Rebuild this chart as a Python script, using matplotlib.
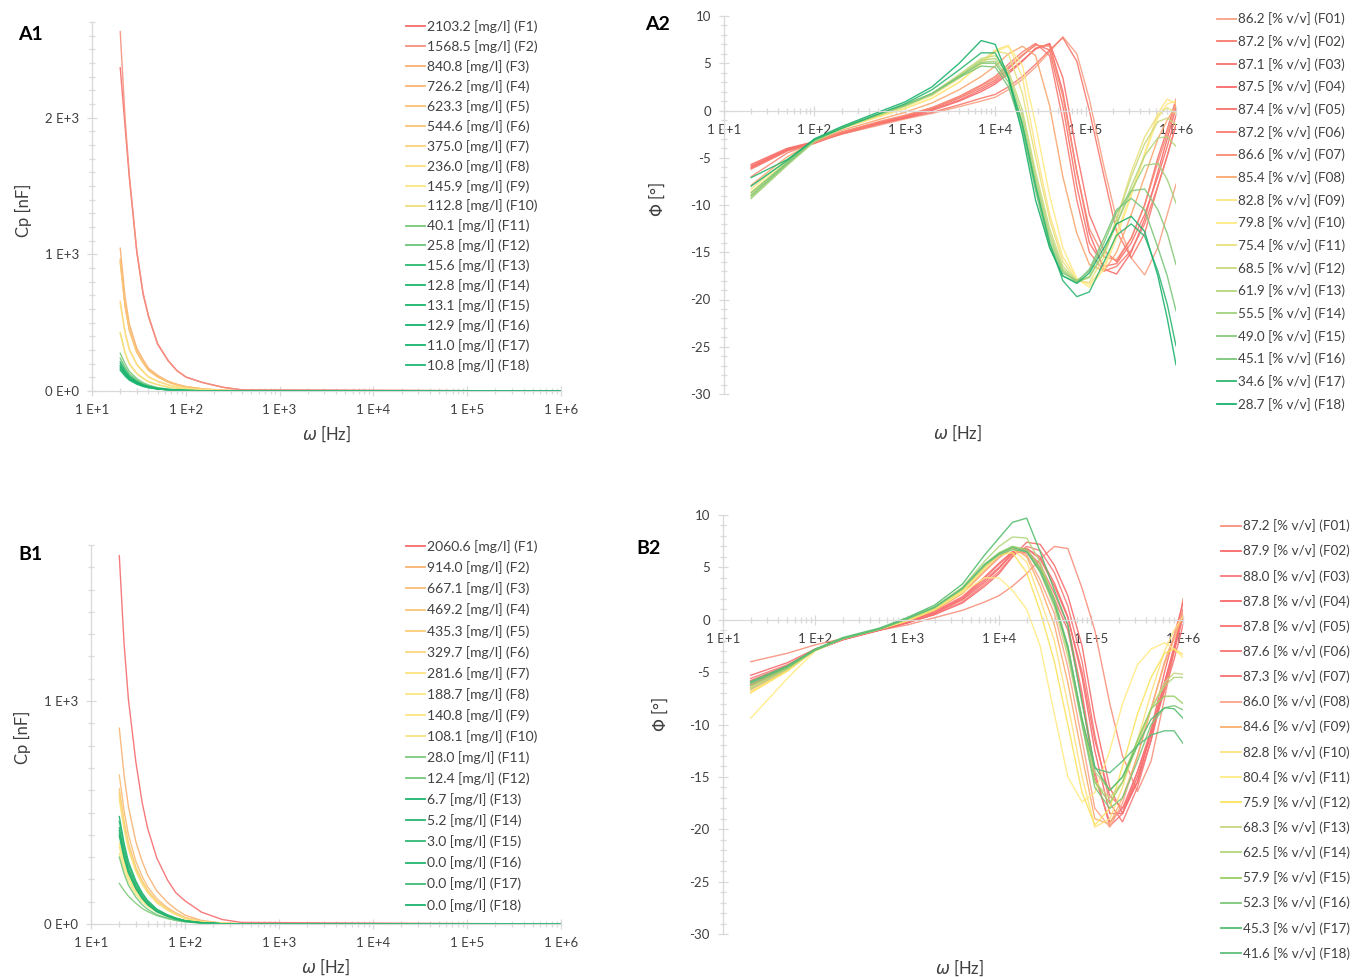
import numpy as np
import matplotlib
matplotlib.use("Agg")
import matplotlib.pyplot as plt
from matplotlib.lines import Line2D
from matplotlib.ticker import FuncFormatter, LogLocator, MultipleLocator, NullFormatter

plt.rcParams["font.family"] = ["Lato", "DejaVu Sans"]
plt.rcParams["mathtext.fontset"] = "dejavusans"

# ---------------- data ----------------
CP_FREQ = [20, 22.5, 25, 30, 35, 40, 50, 65, 80, 100, 150, 250, 400, 1e6]
PH_FREQ = [20, 50, 100, 200, 500, 1e3, 2e3, 4e3, 7e3, 1e4, 1.4e4, 2e4, 2.8e4, 4e4,
           5.6e4, 8e4, 1.1e5, 1.6e5, 2.2e5, 3.2e5, 4.5e5, 6.3e5, 8e5, 1e6]

A1_LABELS = ["2103.2 [mg/l] (F1)", "1568.5 [mg/l] (F2)", "840.8 [mg/l] (F3)", "726.2 [mg/l] (F4)",
             "623.3 [mg/l] (F5)", "544.6 [mg/l] (F6)", "375.0 [mg/l] (F7)", "236.0 [mg/l] (F8)",
             "145.9 [mg/l] (F9)", "112.8 [mg/l] (F10)", "40.1 [mg/l] (F11)", "25.8 [mg/l] (F12)",
             "15.6 [mg/l] (F13)", "12.8 [mg/l] (F14)", "13.1 [mg/l] (F15)", "12.9 [mg/l] (F16)",
             "11.0 [mg/l] (F17)", "10.8 [mg/l] (F18)"]
A1_CP = [
    [2365, 1940, 1560, 1017, 710, 544, 343, 220, 150, 102, 62, 27, 8, 0],
    [2630, 2000, 1580, 1030, 720, 552, 348, 223, 152, 103, 63, 27, 8, 0],
    [1045, 690, 491, 314, 230, 167, 115, 71, 50, 33, 16, 5, 1, 0],
    [965, 637, 454, 290, 212, 154, 106, 66, 46, 31, 14, 5, 1, 0],
    [950, 627, 447, 285, 209, 152, 105, 65, 46, 30, 14, 5, 1, 0],
    [940, 620, 442, 282, 207, 150, 103, 64, 45, 30, 14, 5, 1, 0],
    [655, 432, 308, 197, 144, 105, 72, 45, 31, 21, 10, 3, 1, 0],
    [640, 422, 301, 192, 141, 102, 70, 44, 31, 20, 10, 3, 1, 0],
    [430, 284, 202, 129, 95, 69, 47, 29, 21, 14, 6, 2, 0, 0],
    [420, 277, 197, 126, 92, 67, 46, 29, 20, 13, 6, 2, 0, 0],
    [276, 199, 144, 91, 61, 44, 25, 14, 8, 5, 2, 1, 0, 0],
    [240, 173, 125, 79, 53, 38, 22, 12, 7, 4, 2, 0, 0, 0],
    [215, 155, 112, 71, 47, 34, 19, 11, 6, 4, 2, 0, 0, 0],
    [200, 144, 104, 66, 44, 32, 18, 10, 6, 4, 1, 0, 0, 0],
    [185, 133, 96, 61, 41, 30, 17, 9, 6, 3, 1, 0, 0, 0],
    [175, 126, 91, 58, 39, 28, 16, 9, 5, 3, 1, 0, 0, 0],
    [162, 117, 84, 53, 36, 26, 15, 8, 5, 3, 1, 0, 0, 0],
    [152, 109, 79, 50, 33, 24, 14, 8, 5, 3, 1, 0, 0, 0],
]

B1_LABELS = ["2060.6 [mg/l] (F1)", "914.0 [mg/l] (F2)", "667.1 [mg/l] (F3)", "469.2 [mg/l] (F4)",
             "435.3 [mg/l] (F5)", "329.7 [mg/l] (F6)", "281.6 [mg/l] (F7)", "188.7 [mg/l] (F8)",
             "140.8 [mg/l] (F9)", "108.1 [mg/l] (F10)", "28.0 [mg/l] (F11)", "12.4 [mg/l] (F12)",
             "6.7 [mg/l] (F13)", "5.2 [mg/l] (F14)", "3.0 [mg/l] (F15)", "0.0 [mg/l] (F16)",
             "0.0 [mg/l] (F17)", "0.0 [mg/l] (F18)"]
B1_CP = [
    [1652, 1255, 1008, 727, 545, 430, 297, 198, 140, 104, 53, 20, 7, 0],
    [878, 667, 527, 369, 281, 220, 149, 97, 66, 40, 16, 4, 1, 0],
    [668, 508, 401, 281, 214, 167, 114, 73, 50, 30, 12, 3, 1, 0],
    [606, 461, 364, 255, 194, 152, 103, 67, 45, 27, 11, 3, 1, 0],
    [590, 448, 354, 248, 189, 148, 100, 65, 44, 27, 11, 3, 1, 0],
    [575, 437, 345, 242, 184, 144, 98, 63, 43, 26, 10, 3, 1, 0],
    [560, 426, 336, 235, 179, 140, 95, 62, 42, 25, 10, 3, 1, 0],
    [363, 276, 218, 152, 116, 91, 62, 40, 27, 16, 7, 2, 0, 0],
    [345, 262, 207, 145, 110, 86, 59, 38, 26, 16, 6, 2, 0, 0],
    [316, 240, 190, 133, 101, 79, 54, 35, 24, 14, 6, 2, 0, 0],
    [182, 150, 125, 93, 70, 56, 38, 24, 16, 10, 4, 1, 0, 0],
    [300, 225, 174, 120, 87, 66, 42, 26, 17, 10, 4, 1, 0, 0],
    [482, 362, 280, 193, 140, 106, 67, 41, 27, 15, 6, 1, 0, 0],
    [460, 345, 267, 184, 133, 101, 64, 39, 25, 15, 6, 1, 0, 0],
    [432, 324, 251, 173, 125, 95, 60, 37, 24, 14, 5, 1, 0, 0],
    [420, 315, 244, 168, 122, 92, 59, 36, 23, 13, 5, 1, 0, 0],
    [406, 305, 235, 162, 118, 89, 57, 35, 22, 13, 5, 1, 0, 0],
    [395, 296, 229, 158, 115, 87, 55, 34, 22, 13, 5, 1, 0, 0],
]

A2_LABELS = ["86.2 [% v/v] (F01)", "87.2 [% v/v] (F02)", "87.1 [% v/v] (F03)", "87.5 [% v/v] (F04)",
             "87.4 [% v/v] (F05)", "87.2 [% v/v] (F06)", "86.6 [% v/v] (F07)", "85.4 [% v/v] (F08)",
             "82.8 [% v/v] (F09)", "79.8 [% v/v] (F10)", "75.4 [% v/v] (F11)", "68.5 [% v/v] (F12)",
             "61.9 [% v/v] (F13)", "55.5 [% v/v] (F14)", "49.0 [% v/v] (F15)", "45.1 [% v/v] (F16)",
             "34.6 [% v/v] (F17)", "28.7 [% v/v] (F18)"]
A2_PHASE = [
    [-5.8, -4.1, -3.4, -2.5, -1.6, -0.9, -0.3, 0.4, 1.0, 1.4, 2.2, 3.3, 4.6, 6.2, 7.8, 6.0, 1.2, -6.0, -11.5, -15.6, -17.4, -14.5, -11.0, -7.8],
    [-6.0, -4.2, -3.4, -2.5, -1.5, -0.8, -0.2, 0.6, 1.3, 1.7, 2.5, 3.6, 4.9, 6.4, 7.7, 5.2, 0.0, -7.0, -12.8, -15.6, -13.0, -8.0, -4.8, -1.5],
    [-5.7, -4.0, -3.3, -2.3, -1.3, -0.7, 0.1, 1.1, 2.2, 3.0, 4.1, 5.3, 6.5, 7.1, 3.5, -4.5, -11.0, -14.8, -16.0, -13.5, -10.0, -5.0, -2.0, 1.2],
    [-6.1, -4.2, -3.4, -2.4, -1.4, -0.8, 0.0, 1.0, 2.0, 2.8, 3.9, 5.2, 6.6, 7.0, 2.0, -6.5, -13.0, -16.8, -17.3, -15.0, -11.5, -6.5, -3.0, 0.3],
    [-5.9, -4.1, -3.3, -2.3, -1.3, -0.6, 0.2, 1.3, 2.4, 3.2, 4.4, 5.8, 7.0, 6.4, 0.5, -8.0, -14.0, -16.5, -16.2, -14.0, -11.0, -7.0, -3.8, -0.5],
    [-6.2, -4.3, -3.5, -2.4, -1.3, -0.6, 0.3, 1.5, 2.7, 3.6, 4.9, 6.2, 7.1, 5.8, -1.0, -9.5, -15.0, -17.0, -16.5, -14.8, -12.0, -8.0, -4.8, -1.5],
    [-7.0, -4.5, -3.4, -2.3, -1.2, -0.5, 0.3, 1.4, 2.6, 3.4, 4.6, 5.9, 6.9, 6.8, 1.5, -6.5, -12.5, -15.5, -15.8, -13.5, -10.0, -5.5, -2.5, 0.8],
    [-7.9, -4.9, -3.3, -2.1, -1.0, -0.2, 0.8, 2.2, 3.6, 4.7, 6.0, 6.8, 5.8, 0.5, -7.0, -13.0, -16.3, -17.0, -15.0, -11.0, -7.0, -3.0, -1.0, 0.5],
    [-8.3, -5.2, -3.2, -1.9, -0.7, 0.2, 1.3, 3.0, 5.0, 6.4, 6.9, 3.5, -4.0, -11.0, -15.5, -17.8, -18.4, -16.5, -13.0, -8.8, -4.5, -0.3, 1.2, 0.7],
    [-8.6, -5.4, -3.2, -1.9, -0.7, 0.2, 1.3, 3.0, 4.9, 6.2, 6.8, 4.8, -1.5, -9.0, -14.5, -17.8, -18.7, -16.8, -13.5, -9.0, -4.8, -0.8, 0.7, 1.0],
    [-8.8, -5.5, -3.2, -1.9, -0.6, 0.4, 1.6, 3.4, 5.3, 6.3, 6.0, 1.8, -5.0, -11.5, -16.0, -18.0, -18.2, -15.5, -11.5, -6.5, -2.8, -0.5, 0.3, -0.3],
    [-9.0, -5.6, -3.2, -1.8, -0.5, 0.5, 1.8, 3.8, 5.5, 5.8, 4.2, 0.0, -6.5, -12.5, -16.5, -18.0, -17.6, -15.0, -11.5, -7.0, -3.5, -1.2, -0.8, -1.5],
    [-9.2, -5.7, -3.2, -1.8, -0.5, 0.5, 1.8, 3.7, 5.3, 5.5, 3.8, -0.6, -7.0, -13.0, -16.8, -18.1, -17.7, -15.0, -12.0, -8.0, -4.8, -2.9, -2.8, -3.8],
    [-9.3, -5.8, -3.3, -1.9, -0.5, 0.5, 1.7, 3.6, 5.1, 5.2, 3.4, -1.2, -7.5, -13.5, -17.0, -18.2, -17.6, -15.0, -12.0, -8.5, -5.8, -5.6, -7.3, -9.8],
    [-8.7, -5.5, -3.1, -1.8, -0.4, 0.6, 1.8, 3.6, 5.0, 5.0, 3.0, -1.6, -8.0, -14.0, -17.2, -18.0, -17.0, -14.0, -10.8, -8.5, -8.3, -10.5, -13.0, -16.3],
    [-9.0, -5.6, -3.1, -1.8, -0.4, 0.6, 1.8, 3.5, 4.7, 4.6, 2.5, -2.0, -8.5, -14.5, -17.5, -18.2, -16.8, -13.5, -10.5, -9.3, -10.5, -14.5, -17.5, -21.2],
    [-7.1, -5.2, -3.1, -1.9, -0.4, 0.7, 2.2, 4.3, 6.1, 6.1, 3.5, -1.5, -8.0, -14.0, -18.0, -19.7, -19.2, -16.0, -13.2, -12.0, -13.3, -17.0, -20.5, -24.9],
    [-8.0, -5.3, -3.0, -1.7, -0.2, 0.9, 2.5, 5.0, 7.4, 7.0, 3.5, -2.5, -9.5, -14.5, -17.5, -18.3, -17.2, -14.5, -12.0, -11.2, -12.8, -17.5, -22.0, -26.9],
]

B2_LABELS = ["87.2 [% v/v] (F01)", "87.9 [% v/v] (F02)", "88.0 [% v/v] (F03)", "87.8 [% v/v] (F04)",
             "87.8 [% v/v] (F05)", "87.6 [% v/v] (F06)", "87.3 [% v/v] (F07)", "86.0 [% v/v] (F08)",
             "84.6 [% v/v] (F09)", "82.8 [% v/v] (F10)", "80.4 [% v/v] (F11)", "75.9 [% v/v] (F12)",
             "68.3 [% v/v] (F13)", "62.5 [% v/v] (F14)", "57.9 [% v/v] (F15)", "52.3 [% v/v] (F16)",
             "45.3 [% v/v] (F17)", "41.6 [% v/v] (F18)"]
B2_PHASE = [
    [-4.0, -3.2, -2.4, -1.8, -1.0, -0.5, 0.2, 0.9, 1.7, 2.3, 3.2, 4.4, 5.8, 7.0, 6.8, 3.0, -1.0, -8.0, -13.0, -16.4, -13.5, -7.5, -3.0, 2.0],
    [-5.3, -4.1, -2.8, -1.9, -1.0, -0.3, 0.5, 1.6, 3.2, 4.4, 6.0, 7.4, 7.2, 5.2, 2.3, -2.5, -9.5, -16.0, -18.5, -15.5, -10.5, -5.0, -1.5, 1.6],
    [-5.6, -4.3, -2.9, -1.9, -1.0, -0.3, 0.5, 1.7, 3.4, 4.6, 6.1, 7.0, 6.6, 4.5, 1.3, -4.0, -11.0, -17.5, -19.3, -16.0, -11.5, -6.0, -2.5, 1.0],
    [-5.8, -4.4, -2.9, -1.9, -1.0, -0.3, 0.6, 1.9, 3.6, 4.9, 6.3, 6.8, 6.0, 3.5, 0.3, -5.5, -12.5, -18.5, -18.5, -15.0, -11.0, -6.0, -2.8, 0.8],
    [-6.0, -4.5, -2.9, -1.9, -0.9, -0.2, 0.7, 2.0, 3.8, 5.0, 6.4, 6.8, 5.8, 3.2, 0.2, -5.0, -11.5, -16.8, -18.0, -15.5, -11.5, -6.5, -3.0, 0.5],
    [-6.2, -4.6, -2.9, -1.9, -0.9, -0.2, 0.7, 2.1, 4.0, 5.3, 6.5, 6.6, 5.3, 2.5, -0.5, -7.0, -14.5, -19.7, -18.5, -14.5, -10.5, -6.0, -3.0, 0.2],
    [-6.3, -4.6, -2.9, -1.9, -0.9, -0.2, 0.8, 2.2, 4.1, 5.4, 6.5, 6.4, 5.0, 2.0, -1.0, -7.5, -15.0, -19.3, -18.0, -14.5, -10.8, -6.8, -3.8, -0.5],
    [-6.5, -4.7, -2.9, -1.8, -0.9, -0.1, 0.9, 2.5, 4.6, 5.9, 6.8, 6.2, 3.8, 0.6, -4.5, -11.5, -18.0, -19.8, -17.5, -13.0, -8.5, -4.0, -1.5, 0.8],
    [-6.7, -4.8, -2.9, -1.8, -0.9, -0.1, 0.9, 2.5, 4.7, 6.0, 6.9, 6.0, 3.2, -0.5, -6.0, -13.0, -19.0, -19.5, -17.0, -13.0, -8.5, -4.2, -1.8, 0.5],
    [-7.0, -4.9, -2.9, -1.8, -0.9, -0.1, 1.0, 2.7, 4.9, 6.2, 6.8, 5.5, 2.0, -2.0, -8.0, -15.0, -19.8, -19.0, -16.0, -11.5, -7.0, -3.0, -1.0, 0.3],
    [-9.4, -5.6, -3.0, -1.8, -0.9, -0.1, 1.0, 2.6, 4.0, 4.0, 2.8, 1.0, -2.5, -9.0, -15.0, -17.4, -16.5, -12.5, -8.0, -4.3, -2.8, -2.2, -2.8, -3.6],
    [-6.9, -4.9, -2.9, -1.8, -0.9, -0.1, 1.0, 2.8, 5.0, 6.2, 6.4, 4.5, 0.8, -4.0, -10.0, -16.5, -19.6, -18.0, -14.0, -9.0, -5.5, -3.2, -2.8, -3.3],
    [-6.5, -4.7, -2.9, -1.8, -0.9, 0.0, 1.1, 2.9, 5.1, 6.3, 7.0, 6.5, 4.5, 1.2, -3.5, -10.0, -15.5, -17.0, -15.5, -12.0, -8.5, -6.0, -5.1, -5.2],
    [-6.6, -4.7, -2.9, -1.8, -0.9, 0.1, 1.2, 3.1, 5.6, 7.0, 7.9, 7.8, 5.5, 1.8, -3.0, -9.5, -14.5, -16.3, -15.0, -11.5, -8.5, -6.3, -5.5, -5.5],
    [-6.3, -4.6, -2.9, -1.8, -0.9, 0.1, 1.2, 3.0, 5.3, 6.4, 7.0, 6.7, 5.0, 2.0, -2.5, -9.5, -15.5, -17.5, -15.5, -11.5, -8.5, -7.3, -7.3, -8.0],
    [-6.1, -4.5, -2.9, -1.8, -0.9, 0.1, 1.2, 3.0, 5.2, 6.2, 6.7, 6.5, 4.8, 1.8, -2.8, -10.0, -16.0, -18.0, -17.0, -13.5, -10.0, -8.4, -8.2, -8.6],
    [-5.9, -4.4, -2.8, -1.7, -0.8, 0.2, 1.4, 3.4, 6.2, 7.8, 9.3, 9.7, 6.5, 2.8, -0.5, -8.0, -14.0, -16.3, -15.0, -12.0, -9.5, -8.4, -8.5, -9.4],
    [-6.0, -4.5, -2.9, -1.8, -0.9, 0.1, 1.2, 3.0, 5.3, 6.3, 6.9, 6.5, 4.6, 1.5, -2.5, -9.5, -14.2, -14.6, -13.5, -12.0, -11.0, -10.6, -10.6, -11.8],
]

# ---------------- colours ----------------
A1_COLORS = ["#F46D6B", "#F6907E", "#F8B06E", "#F9B870", "#FAC073", "#FAC576", "#FCD27A", "#FDDE80",
             "#FEE684", "#EFDD7C", "#77C878", "#6CC47A", "#2DBA70", "#1FB56D", "#1AB46C", "#14B26B",
             "#16B46D", "#1FB672"]
A2_COLORS = ["#F9A083", "#F8786C", "#F8706B", "#F8696B", "#F8726B", "#F87B70", "#F88A74", "#FAA66E",
             "#FFE480", "#FFEA82", "#E8E07E", "#C9D97D", "#B4D67B", "#A3D17B", "#86C97A", "#7AC67A",
             "#2EB672", "#1BB26E"]
B1_COLORS = ["#F66C6E", "#F8B274", "#F9BE76", "#FAC678", "#FBCD79", "#FCD97C", "#FDE07F", "#FDE583",
             "#FCE784", "#F8E384", "#7FCB7C", "#74C77B", "#1DB46E", "#28B672", "#30B874", "#22B570",
             "#3FBB78", "#1CB36E"]
B2_COLORS = ["#F9907C", "#F86A6B", "#F97A78", "#F8696B", "#F87070", "#F87474", "#F87272", "#FBA38B",
             "#FAB06E", "#FFE27E", "#FFEB84", "#FBE35D", "#C8D580", "#B2D77C", "#98CF63", "#7CC778",
             "#55BE6E", "#5EBE7A"]

W, H = 1352, 977
AXIS_C = "#D9D9D9"
TEXT_C = "#404040"

fig = plt.figure(figsize=(W / 100, H / 100), dpi=100)


def px_box(left, right, top, bottom):
    return [left / W, 1 - bottom / H, (right - left) / W, (bottom - top) / H]


def log_label(v, pos):
    return f"1 E+{int(round(np.log10(v)))}"


def cp_label(v, pos):
    return "0 E+0" if v == 0 else f"{int(round(v / 1000))} E+3"


def phase_label(v, pos):
    return f"{int(round(v))}"


def style(ax, ylim, ymaj, ymin, yfmt, zero_axis):
    ax.set_xscale("log")
    ax.set_xlim(10, 1e6)
    ax.set_ylim(*ylim)
    for s in ["top", "right"]:
        ax.spines[s].set_visible(False)
    for s in ["left", "bottom"]:
        ax.spines[s].set_color(AXIS_C)
        ax.spines[s].set_linewidth(0.9)
    if zero_axis:
        ax.spines["bottom"].set_position(("data", 0))
    ax.xaxis.set_major_locator(LogLocator(base=10, numticks=10))
    ax.xaxis.set_minor_locator(LogLocator(base=10, subs=np.arange(2, 10), numticks=100))
    ax.xaxis.set_minor_formatter(NullFormatter())
    ax.xaxis.set_major_formatter(FuncFormatter(log_label))
    ax.yaxis.set_major_locator(MultipleLocator(ymaj))
    ax.yaxis.set_minor_locator(MultipleLocator(ymin))
    ax.yaxis.set_major_formatter(FuncFormatter(yfmt))
    ax.tick_params(which="both", direction="inout", color=AXIS_C, labelcolor=TEXT_C,
                   labelsize=9.5, width=0.9)
    ax.tick_params(which="major", length=7)
    ax.tick_params(which="minor", length=4)
    ax.tick_params(axis="x", pad=6)
    ax.tick_params(axis="y", pad=6)
    ax.patch.set_visible(False)


def legend(ax, labels, colors, left, first_row, pitch, handle, fs, text_h):
    fs_px = fs * 100 / 72
    handles = [Line2D([], [], color=c, lw=1.3) for c in colors]
    top = first_row - 0.345 * fs_px
    ax.legend(handles, labels, loc="upper left", bbox_to_anchor=(left / W, 1 - top / H),
              bbox_transform=fig.transFigure, frameon=False, fontsize=fs,
              handlelength=handle / fs_px, handletextpad=0.15,
              labelspacing=(pitch - text_h * fs_px) / fs_px, borderpad=0, borderaxespad=0,
              labelcolor=TEXT_C)


def draw(ax, freq, series, colors):
    for vals, c in zip(series, colors):
        ax.plot(freq, vals, color=c, lw=1.0, alpha=0.9, solid_joinstyle="round")


# A1
ax = fig.add_axes(px_box(92, 561, 22, 391))
draw(ax, CP_FREQ, A1_CP, A1_COLORS)
style(ax, (0, 2700), 1000, 100, cp_label, False)
legend(ax, A1_LABELS, A1_COLORS, 406, 25, 19.94, 19, 10, 0.935)

# A2
ax = fig.add_axes(px_box(724, 1176, 16, 394))
draw(ax, PH_FREQ, A2_PHASE, A2_COLORS)
style(ax, (-30, 10), 5, 1, phase_label, True)
legend(ax, A2_LABELS, A2_COLORS, 1217, 17, 22.76, 19, 9.7, 0.97)

# B1
ax = fig.add_axes(px_box(91, 561, 545, 924))
draw(ax, CP_FREQ, B1_CP, B1_COLORS)
style(ax, (0, 1700), 1000, 100, cp_label, False)
legend(ax, B1_LABELS, B1_COLORS, 406, 545, 21.1, 19, 10, 0.935)

# B2
ax = fig.add_axes(px_box(723, 1183, 515, 934))
draw(ax, PH_FREQ, B2_PHASE, B2_COLORS)
style(ax, (-30, 10), 5, 1, phase_label, True)
legend(ax, B2_LABELS, B2_COLORS, 1221, 524, 25.24, 20, 9.7, 0.97)


def ftext(x, y, s, color=TEXT_C, **kw):
    fig.text(x / W, 1 - y / H, s, ha="center", va="center", color=color, **kw)


ftext(30, 35, "A1", fontsize=14, fontweight="bold", color="black")
ftext(657, 24, "A2", fontsize=14, fontweight="bold", color="black")
ftext(30, 554, "B1", fontsize=14, fontweight="bold", color="black")
ftext(648, 548, "B2", fontsize=14, fontweight="bold", color="black")

ftext(23, 210, "Cp [nF]", fontsize=12, rotation=90)
ftext(22, 737, "Cp [nF]", fontsize=12, rotation=90)
ftext(657, 200, r"$\mathit{\Phi}$ [°]", fontsize=12, rotation=90)
ftext(660, 715, r"$\mathit{\Phi}$ [°]", fontsize=12, rotation=90)
ftext(327, 434, r"$\omega$ [Hz]", fontsize=12)
ftext(326, 967, r"$\omega$ [Hz]", fontsize=12)
ftext(958, 433, r"$\omega$ [Hz]", fontsize=12)
ftext(960, 968, r"$\omega$ [Hz]", fontsize=12)

fig.savefig("out.png", dpi=100)
